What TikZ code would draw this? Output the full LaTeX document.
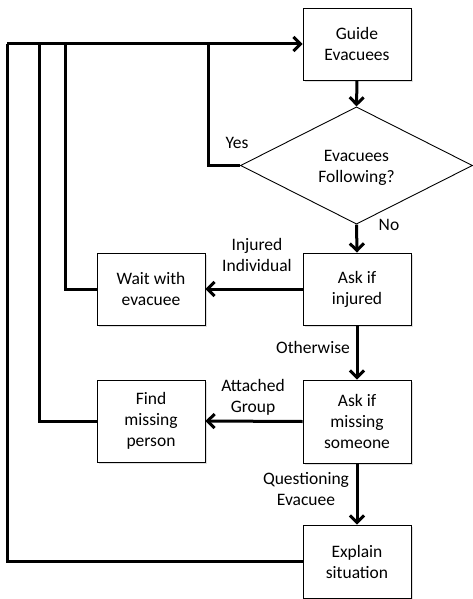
\documentclass[tikz,border=0pt]{standalone}
\usepackage{fontspec}
\setmainfont{Carlito}
\usetikzlibrary{shapes.geometric,arrows.meta}
\begin{document}
\begin{tikzpicture}[x=1pt,y=-1pt,
  box/.style={draw=black,line width=0.9pt,fill=white,minimum width=108pt,minimum height=72pt,align=center,font=\fontsize{17.5}{21}\selectfont,inner sep=0pt},
  dec/.style={draw=black,line width=0.9pt,fill=white,diamond,minimum width=232pt,minimum height=110pt,align=center,font=\fontsize{17.5}{21}\selectfont,inner sep=0pt},
  conn/.style={line width=3pt,line join=miter},
  arr/.style={conn,-{Straight Barb[length=7pt,width=14pt]}},
  lbl/.style={align=center,font=\fontsize{17.5}{21}\selectfont,inner sep=0pt}]
\useasboundingbox (0,0) rectangle (472,599);
\fill[gray!25] (305,10) rectangle (413,82);
\node[box] (guide) at (357,44) {Guide\\Evacuees};
\node[dec] (follow) at (356.5,165.5) {\\[-4pt]Evacuees\\Following?};
\fill[gray!25] (305,255) rectangle (413,327);
\node[box] (injured) at (357,289) {Ask if\\injured};
\fill[gray!25] (99,255) rectangle (207,327);
\node[box] (wait) at (151,289) {Wait with\\evacuee};
\fill[gray!25] (305,382) rectangle (413,465);
\node[box,minimum height=83pt] (missing) at (357,421.5) {Ask if\\missing\\someone};
\fill[gray!25] (99,382) rectangle (207,464);
\node[box,minimum height=82pt] (find) at (151,421) {Find\\missing\\person};
\fill[gray!25] (305,527) rectangle (413,600);
\node[box,minimum height=73pt] (explain) at (357,561.5) {Explain\\situation};
\coordinate (c7) at (7,44);
\coordinate (c39) at (39,44);
\coordinate (c65) at (65,44);
\coordinate (c208) at (208,44);
\draw[arr] (c7) -- (guide.west);
\draw[arr] (guide.south) -- (follow.north);
\draw[arr] (follow.south) -- (injured.north);
\draw[arr] (injured.south) -- (missing.north);
\draw[arr] (missing.south) -- (explain.north);
\draw[arr] (injured.west) -- (wait.east);
\draw[arr] (missing.west) -- (find.east);
\draw[conn] (follow.west) -| (c208);
\draw[conn] (wait.west) -| (c65);
\draw[conn] (find.west) -| (c39);
\draw[conn] (explain.west) -| (c7);
\node[lbl] (yes) at (237,143) {Yes};
\node[lbl] (no) at (389,225) {No};
\node[lbl] (linj) at (257,255) {Injured\\Individual};
\node[lbl] (loth) at (313,347) {Otherwise};
\node[lbl] (latt) at (253,397) {Attached\\Group};
\node[lbl] (lq) at (306,489.5) {Questioning\\Evacuee};
\end{tikzpicture}
\end{document}
